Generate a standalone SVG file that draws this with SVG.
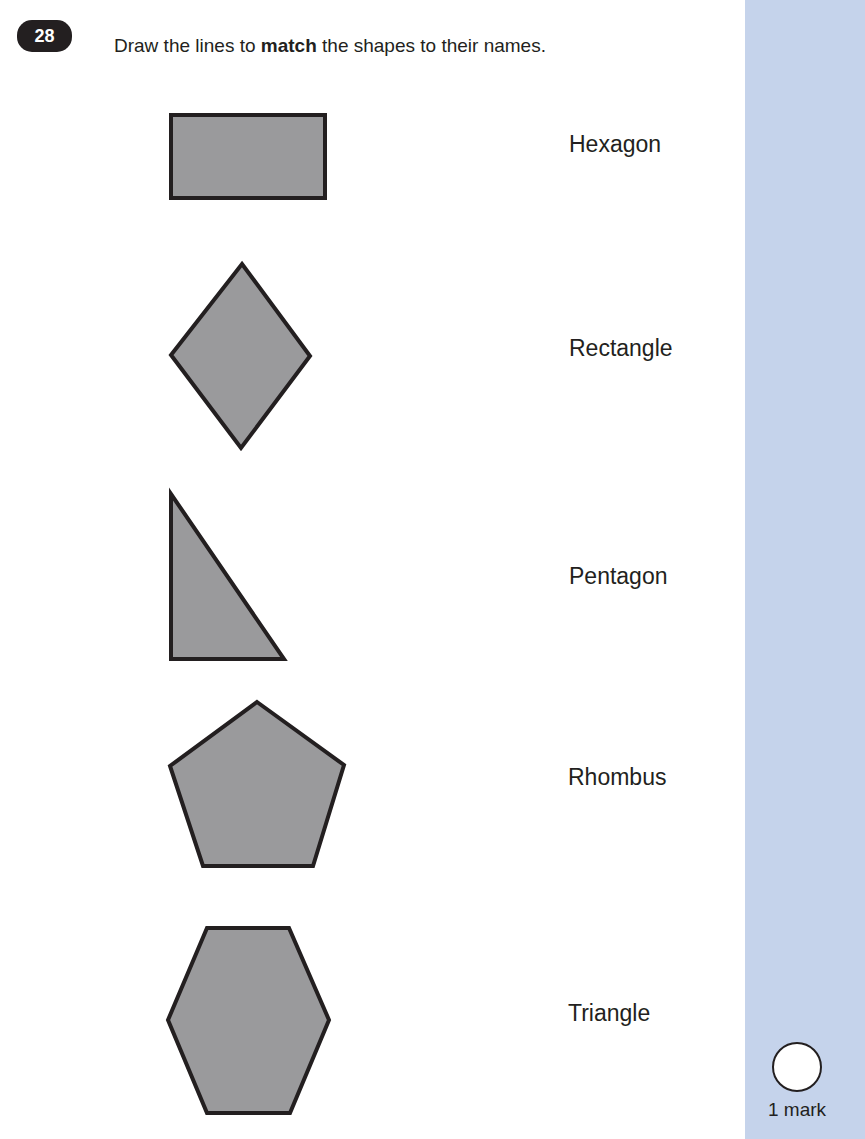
<svg xmlns="http://www.w3.org/2000/svg" width="865" height="1139" viewBox="0 0 865 1139">
<style>
.s{fill:#9a9a9c;stroke:#231f20;stroke-width:4;stroke-linejoin:miter}
.l{font-family:"Liberation Sans",Arial,sans-serif;font-size:23px;fill:#231f20}
.t{font-family:"Liberation Sans",Arial,sans-serif;font-size:19px;fill:#231f20}
</style>
<rect x="0" y="0" width="865" height="1139" fill="#fff"/>
<rect x="745" y="0" width="120" height="1139" fill="#c5d3eb"/>
<g id="badge"><rect x="17" y="20" width="55" height="32" rx="15" fill="#231f20"/><text x="44.500" y="42" text-anchor="middle" font-family="Liberation Sans,Arial,sans-serif" font-weight="bold" font-size="18" fill="#fff">28</text></g>
<text class="t" x="114" y="52">Draw the lines to <tspan font-weight="bold">match</tspan> the shapes to their names.</text>
<g id="rectangle"><rect class="s" x="171" y="115" width="154" height="83"/></g>
<g id="rhombus"><polygon class="s" points="242,264 310,356 241,448 171,355"/></g>
<g id="triangle"><polygon class="s" points="171,494 171,659 284,659"/></g>
<g id="pentagon"><polygon class="s" points="257,702 344,765 313,866 203,866 170,766"/></g>
<g id="hexagon"><polygon class="s" points="207,928 289,928 329,1020 290,1113 207,1113 168,1020"/></g>
<g id="labels">
<text class="l" x="569" y="152">Hexagon</text>
<text class="l" x="569" y="356">Rectangle</text>
<text class="l" x="569" y="584">Pentagon</text>
<text class="l" x="568" y="785">Rhombus</text>
<text class="l" x="568" y="1021">Triangle</text>
</g>
<g id="mark"><circle cx="797" cy="1067" r="24" fill="#fff" stroke="#231f20" stroke-width="2"/>
<text class="t" x="797" y="1116" text-anchor="middle" font-size="18">1 mark</text></g>
<g id="connectors"></g>
</svg>
